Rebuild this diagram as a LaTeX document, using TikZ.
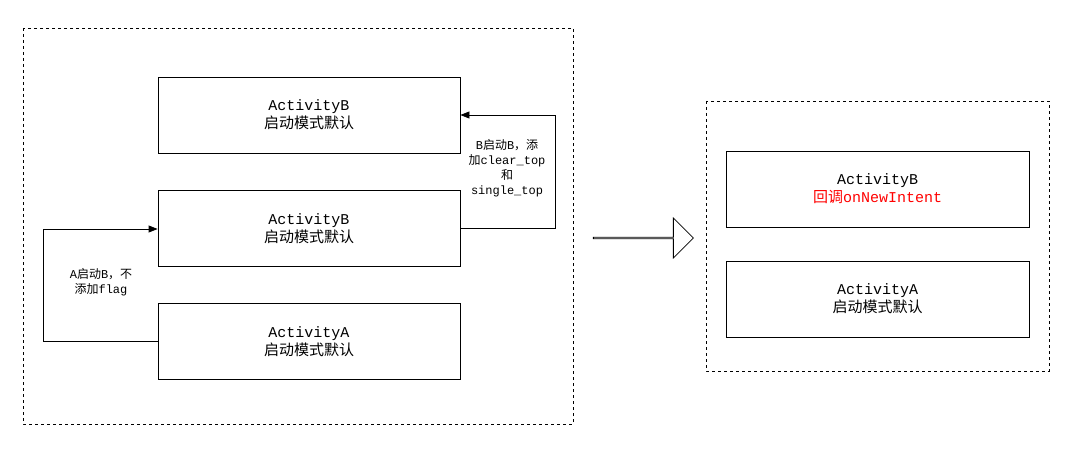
\documentclass[tikz,border=0pt]{standalone}
\usepackage{fontspec}
\setmainfont{Liberation Mono}
\newfontfamily\cjk{Noto Sans CJK SC}
\usetikzlibrary{arrows.meta,shapes.arrows}
\begin{document}
\begin{tikzpicture}[x=1pt,y=-1pt,
  box/.style={draw,thick,minimum width=302pt,minimum height=76pt,align=center,font=\fontsize{15}{18}\selectfont,inner sep=0pt},
  dbox/.style={draw,thick,dashed},
  lbl/.style={font=\fontsize{12}{15}\selectfont,align=center,inner sep=1pt},
  con/.style={draw,thick,-{Triangle[length=9pt,width=7pt]}}]
\useasboundingbox (0,0) rectangle (1081,468);
\draw[dbox] (23,28) rectangle (573,424);
\draw[dbox] (706,101) rectangle (1049,371);
\node[box] (b1) at (309,115) {ActivityB\\{\cjk 启动模式默认}};
\node[box] (b2) at (309,228.5) {ActivityB\\{\cjk 启动模式默认}};
\node[box] (a1) at (309,341.5) {ActivityA\\{\cjk 启动模式默认}};
\node[box,minimum width=303pt] (rb) at (877.5,189) {ActivityB\\\textcolor{red}{{\cjk 回调}onNewIntent}};
\node[box,minimum width=303pt] (ra) at (877.5,299) {ActivityA\\{\cjk 启动模式默认}};
\coordinate (c1) at (43,341);
\coordinate (c2) at (43,229);
\coordinate (c3) at (555,228);
\coordinate (c4) at (555,115);
\draw[con] (a1.west |- c1) -- (c1) -- (c2) -- (b2.west |- c2);
\draw[con] (b2.east |- c3) -- (c3) -- (c4) -- (b1.east |- c4);
\node[lbl] (l1) at (101,282) {A{\cjk 启动}B{\cjk ，不}\\{\cjk 添加}flag};
\node[lbl] (l2) at (507,168) {B{\cjk 启动}B{\cjk ，添}\\{\cjk 加}clear\_top\\{\cjk 和}\\single\_top};
\node[draw,thick,single arrow,minimum height=100pt,minimum width=40pt,single arrow head extend=11pt,inner sep=0pt,fill=white] (arr) at (643,238) {};
\end{tikzpicture}
\end{document}
